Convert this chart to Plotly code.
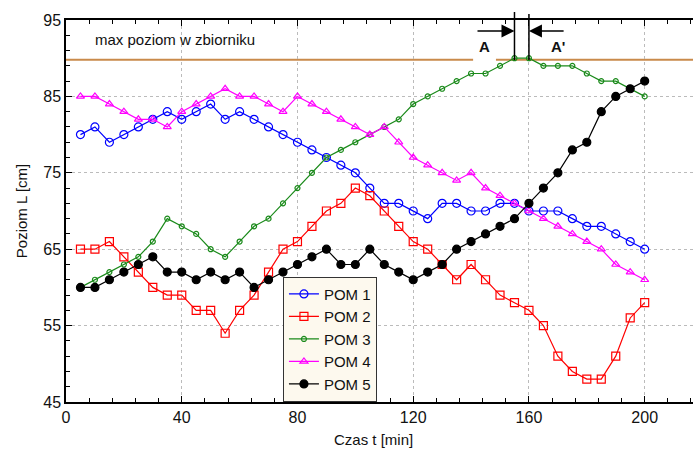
import plotly.graph_objects as go

t = list(range(5, 205, 5))

pom1 = [80, 81, 79, 80, 81, 82, 83, 82, 83, 84, 82, 83, 82, 81, 80, 79, 78, 77, 76, 75,
        73, 71, 71, 70, 69, 71, 71, 70, 70, 71, 71, 70, 70, 70, 69, 68, 68, 67, 66, 65]
pom2 = [65, 65, 66, 64, 62, 60, 59, 59, 57, 57, 54, 57, 59, 62, 65, 66, 68, 70, 71, 73,
        72, 70, 68, 66, 65, 63, 61, 63, 61, 59, 58, 57, 55, 51, 49, 48, 48, 51, 56, 58]
pom3 = [60, 61, 62, 63, 64, 66, 69, 68, 67, 65, 64, 66, 68, 69, 71, 73, 75, 77, 78, 79,
        80, 81, 82, 84, 85, 86, 87, 88, 88, 89, 90, 90, 89, 89, 89, 88, 87, 87, 86, 85]
pom4 = [85, 85, 84, 83, 82, 82, 81, 83, 84, 85, 86, 85, 85, 84, 83, 85, 84, 83, 82, 81,
        80, 81, 79, 77, 76, 75, 74, 75, 73, 72, 71, 70, 69, 68, 67, 66, 65, 63, 62, 61]
pom5 = [60, 60, 61, 62, 63, 64, 62, 62, 61, 62, 61, 62, 60, 61, 62, 63, 64, 65, 63, 63,
        65, 63, 62, 61, 62, 63, 65, 66, 67, 68, 69, 71, 73, 75, 78, 79, 83, 85, 86, 87]

names = ["POM 1", "POM 2", "POM 3", "POM 4", "POM 5"]
colors = ["#0000FF", "#FF0000", "#1A8A1A", "#FF00FF", "#000000"]
symbols = ["circle-open", "square-open", "circle-open", "triangle-up-open", "circle"]
sizes = [8, 8, 5, 7, 8]

max_level = 89.8
x_range = [0, 216.7]
y_range = [45, 95]

FONT = "Liberation Sans, Arial, sans-serif"

fig = go.Figure()
for data, name, col, sym, sz in zip([pom1, pom2, pom3, pom4, pom5], names, colors, symbols, sizes):
    fig.add_trace(go.Scatter(
        x=t, y=data, name=name, mode="lines+markers",
        line=dict(color=col, width=1.2),
        marker=dict(symbol=sym, size=sz, color=col, line=dict(color=col, width=1.2)),
        cliponaxis=False,
    ))

# max level line
fig.add_shape(type="line", xref="x", yref="y", x0=x_range[0], x1=x_range[1],
              y0=max_level, y1=max_level, line=dict(color="#C98A4B", width=2), layer="below")
fig.add_shape(type="rect", xref="x", yref="y", x0=140.7, x1=148.6, y0=89.5, y1=90.1,
              fillcolor="white", line=dict(width=0), layer="below")

# A / A' markers
fig.add_shape(type="line", xref="x", yref="paper", x0=155, x1=155, y0=0.895, y1=1.021,
              line=dict(color="black", width=1.5))
fig.add_shape(type="line", xref="x", yref="paper", x0=160, x1=160, y0=0.895, y1=1.016,
              line=dict(color="black", width=1.5))
fig.add_annotation(x=155, y=93.56, ax=141.7, ay=93.56, axref="x", ayref="y", xref="x", yref="y",
                   text="", showarrow=True, arrowhead=2, arrowsize=2, arrowwidth=1.3,
                   arrowcolor="black")
fig.add_annotation(x=160, y=93.56, ax=172.5, ay=93.56, axref="x", ayref="y", xref="x", yref="y",
                   text="", showarrow=True, arrowhead=2, arrowsize=2, arrowwidth=1.3,
                   arrowcolor="black")
fig.add_annotation(x=144.5, y=91.5, text="<b>A</b>", showarrow=False,
                   font=dict(family=FONT, size=15, color="#111"))
fig.add_annotation(x=170, y=91.5, text="<b>A'</b>", showarrow=False,
                   font=dict(family=FONT, size=15, color="#111"))
fig.add_annotation(x=37.7, y=92.4, text="max poziom w zbiorniku", showarrow=False,
                   font=dict(family=FONT, size=15, color="#111"))

# x-axis title (slightly left of centre as in the original)
fig.add_annotation(xref="paper", yref="paper", x=0.49, y=-0.098, yanchor="middle",
                   text="Czas t [min]", showarrow=False,
                   font=dict(family=FONT, size=15, color="#111"))

fig.update_layout(
    width=693, height=455,
    margin=dict(l=66, r=0, t=20, b=53),
    plot_bgcolor="white", paper_bgcolor="white",
    font=dict(family=FONT, size=16, color="#111"),
    showlegend=True,
    legend=dict(x=0.346, y=0.328, xanchor="left", yanchor="top",
                bgcolor="#FDF9EE", bordercolor="#333", borderwidth=1,
                font=dict(family=FONT, size=15, color="#111"),
                tracegroupgap=0),
    xaxis=dict(range=x_range, tickmode="array", tickvals=[0, 40, 80, 120, 160, 200],
               showline=True, linecolor="black", linewidth=1.5, mirror="ticks",
               ticks="inside", ticklen=6, tickcolor="black", tickwidth=1,
               showgrid=True, gridcolor="#BBBBBB", griddash="dot", gridwidth=1,
               zeroline=False,
               minor=dict(dtick=8, tick0=0, ticks="inside", ticklen=4, tickcolor="black", showgrid=False),
               tickfont=dict(family=FONT, size=16)),
    yaxis=dict(range=y_range, tickmode="array", tickvals=[45, 55, 65, 75, 85, 95],
               showline=True, linecolor="black", linewidth=1.5,
               ticks="inside", ticklen=6, tickcolor="black", tickwidth=1,
               showgrid=True, gridcolor="#BBBBBB", griddash="dot", gridwidth=1,
               zeroline=False,
               minor=dict(dtick=2, tick0=45, ticks="inside", ticklen=4, tickcolor="black", showgrid=False),
               title=dict(text="Poziom L [cm]", font=dict(family=FONT, size=15), standoff=12),
               tickfont=dict(family=FONT, size=16)),
)

fig.write_html("out.html")
